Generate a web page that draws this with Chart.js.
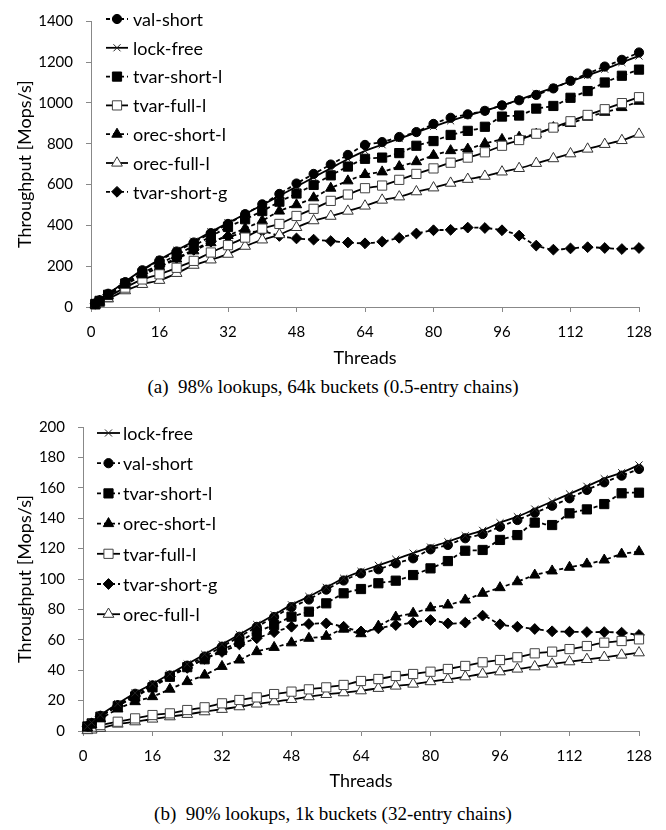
<!DOCTYPE html>
<html>
<head>
<meta charset="utf-8">
<script src="https://cdn.jsdelivr.net/npm/chart.js@4.4.1/dist/chart.umd.min.js"></script>
<style>
  body { margin: 0; background: #fff; }
  #wrap { position: relative; width: 666px; height: 830px; }
  canvas { position: absolute; left: 0; }
  .cap { position: absolute; left: 0; width: 666px; text-align: center; white-space: pre;
         font: 19px "Liberation Serif", "Times New Roman", serif; color: #000; }
</style>
</head>
<body>
<div id="wrap">
  <canvas id="chartA" width="666" height="372" style="top:0"></canvas>
  <div class="cap" style="top:376px">(a)  98% lookups, 64k buckets (0.5-entry chains)</div>
  <canvas id="chartB" width="666" height="390" style="top:405px"></canvas>
  <div class="cap" style="top:803px">(b)  90% lookups, 1k buckets (32-entry chains)</div>
</div>
<script>
// thread counts measured
const threads = [1, 2, 4, 8, 12, 16, 20, 24, 28, 32, 36, 40, 44, 48, 52, 56, 60, 64, 68, 72, 76, 80, 84, 88, 92, 96, 100, 104, 108, 112, 116, 120, 124, 128];

// (a) 98% lookups, 64k buckets
const valShortA   = [17, 33, 65, 122, 180, 228, 272, 316, 362, 407, 455, 503, 554, 605, 652, 698, 745, 794, 808, 833, 857, 897, 927, 944, 961, 988, 1013, 1039, 1071, 1108, 1144, 1178, 1211, 1247];
const lockFreeA   = [16, 32, 64, 124, 182, 232, 278, 322, 368, 412, 455, 500, 545, 590, 635, 680, 725, 765, 795, 825, 855, 885, 912, 938, 962, 988, 1015, 1045, 1075, 1105, 1135, 1165, 1198, 1230];
const tvarShortLA = [15, 30, 60, 115, 165, 210, 255, 300, 346, 392, 430, 470, 516, 556, 598, 645, 688, 726, 732, 754, 790, 813, 843, 863, 883, 933, 938, 972, 985, 1025, 1058, 1100, 1133, 1163];
const tvarFullLA  = [12, 25, 50, 95, 135, 160, 192, 226, 267, 303, 340, 384, 407, 446, 481, 520, 551, 582, 595, 623, 652, 679, 707, 732, 758, 790, 818, 849, 879, 910, 941, 969, 999, 1028];
const orecShortLA = [14, 28, 56, 108, 155, 195, 235, 275, 315, 350, 385, 423, 470, 501, 535, 582, 618, 649, 662, 688, 712, 743, 766, 774, 801, 821, 832, 847, 879, 899, 930, 954, 977, 1008];
const orecFullLA  = [10, 20, 40, 80, 111, 131, 165, 205, 231, 259, 298, 329, 355, 390, 423, 445, 470, 495, 524, 540, 565, 584, 607, 626, 641, 662, 679, 704, 727, 751, 774, 797, 816, 847];
const tvarShortGA = [15, 30, 60, 115, 165, 200, 240, 280, 320, 345, 362, 372, 348, 336, 330, 323, 316, 312, 320, 339, 360, 376, 378, 389, 387, 376, 350, 301, 281, 287, 293, 289, 284, 289];

// (b) 90% lookups, 1k buckets
const lockFreeB   = [3, 5.5, 10.5, 18, 25, 31, 37.5, 44, 50.5, 57, 63.5, 70, 76.5, 83, 88.5, 94.5, 100.5, 105, 109, 113, 117, 121, 124.5, 128.5, 132, 137, 141, 146, 151, 156, 161, 166, 170, 175];
const valShortB   = [3, 5, 10, 17, 24.5, 30, 36.5, 43, 49, 55.5, 62, 68.5, 75, 81.5, 86.5, 93, 99, 103.7, 106.4, 110.3, 113.6, 119.5, 122.4, 126.8, 129.6, 134.4, 138.8, 143.6, 148.2, 153.1, 158.6, 163.6, 168, 172.4];
const tvarShortLB = [3, 5, 9.4, 16.4, 22.6, 28.7, 35.7, 42, 47.2, 53.3, 58.8, 65.3, 69.7, 75.2, 78.5, 84, 90.6, 93.4, 97.2, 98.9, 102.6, 107, 111.8, 118.6, 119.1, 125.7, 128.9, 137.1, 135.5, 143.2, 145.8, 149.3, 156.4, 156.8];
const orecShortLB = [2, 4, 8, 14.5, 19.3, 22.6, 27.5, 32.5, 36.8, 42.5, 46.7, 52.2, 55, 58, 61, 62.3, 67, 64, 69, 75, 77.5, 81, 82.9, 86.2, 90.6, 94.3, 98.2, 102.6, 105.3, 107.7, 109.9, 112.5, 116.4, 118];
const tvarFullLB  = [1.5, 2.9, 3.9, 6.1, 8.3, 10.5, 11.6, 13.8, 15.6, 18.2, 20.4, 22.1, 24.3, 25.9, 27.4, 28.7, 30.3, 32.9, 34.2, 36.2, 37.5, 39, 40.8, 42.8, 45.2, 46.7, 48.5, 51.1, 52.2, 53.9, 55.9, 58.1, 59.2, 60.3];
const tvarShortGB = [3, 5, 9.5, 16.5, 23, 29.5, 36, 41.5, 47.5, 52, 57, 61, 65, 68.6, 70.4, 70.8, 68.6, 65.5, 67.5, 69.7, 71.3, 73, 70.8, 71.3, 75.9, 70.2, 68.6, 67.1, 65.6, 65.3, 65.1, 65.1, 64.7, 63.2];
const orecFullLB  = [0.3, 0.7, 1.8, 4.6, 6.1, 7.9, 9.4, 11, 12.7, 14.3, 16, 17.8, 19.3, 20.8, 22.6, 24.1, 25.2, 26.5, 28.1, 29.6, 30.9, 32.5, 34, 35.7, 37.5, 39, 40.8, 42.3, 44.1, 45.6, 47.1, 48.5, 50, 51.5];

const xTicks = [0, 16, 32, 48, 64, 80, 96, 112, 128];

const FONT = 'Lato, "Liberation Sans", sans-serif';
const DASH = [4, 3];

// marker/line look per series
const looks = {
  'val-short':    { dash: DASH, style: 'circle',    r: 4.6, fill: '#000', edge: '#000' },
  'lock-free':    { dash: [],   style: 'crossRot',  r: 5,   fill: '#000', edge: '#222' },
  'tvar-short-l': { dash: DASH, style: 'rect',      r: 6.5, fill: '#000', edge: '#000' },
  'tvar-full-l':  { dash: [],   style: 'rect',      r: 6.5, fill: '#fff', edge: '#444' },
  'orec-short-l': { dash: DASH, style: 'triangle',  r: 6,   fill: '#000', edge: '#000' },
  'orec-full-l':  { dash: [],   style: 'triangle',  r: 6.2, fill: '#fff', edge: '#333' },
  'tvar-short-g': { dash: DASH, style: 'rectRot',   r: 5.4, fill: '#000', edge: '#000' }
};

function series(name, values) {
  const lk = looks[name];
  return {
    label: name,
    data: threads.map((t, i) => ({ x: t, y: values[i] })),
    borderColor: '#000',
    borderWidth: 1.8,
    borderDash: lk.dash,
    pointStyle: lk.style,
    pointRadius: lk.r,
    pointBackgroundColor: lk.fill,
    pointBorderColor: lk.edge,
    pointBorderWidth: 1,
    tension: 0.25,
    clip: false
  };
}

// legend drawn inside the plot area, top-left
const innerLegend = {
  id: 'innerLegend',
  afterDatasetsDraw(chart, args, opts) {
    const ctx = chart.ctx;
    chart.data.datasets.forEach((ds, i) => {
      const y = opts.y + i * opts.step;
      const x0 = opts.x, x1 = opts.x + opts.len;
      ctx.save();
      ctx.strokeStyle = '#000';
      ctx.lineWidth = 1.8;
      ctx.setLineDash(ds.borderDash);
      ctx.beginPath();
      ctx.moveTo(x0, y);
      ctx.lineTo(x1, y);
      ctx.stroke();
      ctx.setLineDash([]);
      ctx.fillStyle = ds.pointBackgroundColor;
      ctx.strokeStyle = ds.pointBorderColor;
      ctx.lineWidth = 1;
      Chart.helpers.drawPoint(ctx, { pointStyle: ds.pointStyle, radius: ds.pointRadius, rotation: 0, borderWidth: 1 }, (x0 + x1) / 2, y);
      ctx.fillStyle = '#000';
      ctx.font = '18px ' + FONT;
      ctx.textBaseline = 'middle';
      ctx.textAlign = 'left';
      ctx.fillText(ds.label, opts.textX, y + 1);
      ctx.restore();
    });
  }
};

function makeChart(id, datasets, yMax, yStep, leftW, topPad, xAxisH, legend) {
  return new Chart(document.getElementById(id), {
    type: 'line',
    data: { datasets },
    plugins: [innerLegend],
    options: {
      responsive: false,
      animation: false,
      devicePixelRatio: 1,
      layout: { padding: { left: 0, right: 27, top: topPad, bottom: 0 } },
      plugins: {
        legend: { display: false },
        tooltip: { enabled: false },
        innerLegend: legend
      },
      scales: {
        x: {
          type: 'linear',
          min: 0, max: 128,
          afterBuildTicks: s => { s.ticks = xTicks.map(v => ({ value: v })); },
          afterFit: s => { s.height = xAxisH; },
          grid: { drawOnChartArea: false, color: '#888', tickLength: 5 },
          border: { color: '#888', width: 1 },
          ticks: { color: '#000', padding: 12, font: { family: FONT, size: 15, lineHeight: 1.1 }, maxRotation: 0, callback: v => String(v) },
          title: { display: true, text: 'Threads', color: '#000', font: { family: FONT, size: 18 }, padding: { top: 0, bottom: 3 } }
        },
        y: {
          min: 0, max: yMax,
          ticks: { stepSize: yStep, color: '#000', padding: 13, font: { family: FONT, size: 15, lineHeight: 1.1 }, callback: v => String(v) },
          afterFit: s => { s.width = leftW; },
          grid: { drawOnChartArea: false, color: '#888', tickLength: 5 },
          border: { color: '#888', width: 1 },
          title: { display: true, text: 'Throughput [Mops/s]', color: '#000', font: { family: FONT, size: 18 }, padding: { top: 14, bottom: 0 } }
        }
      }
    }
  });
}

makeChart('chartA', [
  series('val-short', valShortA),
  series('lock-free', lockFreeA),
  series('tvar-short-l', tvarShortLA),
  series('tvar-full-l', tvarFullLA),
  series('orec-short-l', orecShortLA),
  series('orec-full-l', orecFullLA),
  series('tvar-short-g', tvarShortGA)
], 1400, 200, 91, 8, 65, { x: 106, len: 22, textX: 133, y: 19, step: 28.8 });

makeChart('chartB', [
  series('lock-free', lockFreeB),
  series('val-short', valShortB),
  series('tvar-short-l', tvarShortLB),
  series('orec-short-l', orecShortLB),
  series('tvar-full-l', tvarFullLB),
  series('tvar-short-g', tvarShortGB),
  series('orec-full-l', orecFullLB)
], 200, 20, 83, 22, 64, { x: 97, len: 23, textX: 123, y: 28, step: 30.2 });
</script>
</body>
</html>
